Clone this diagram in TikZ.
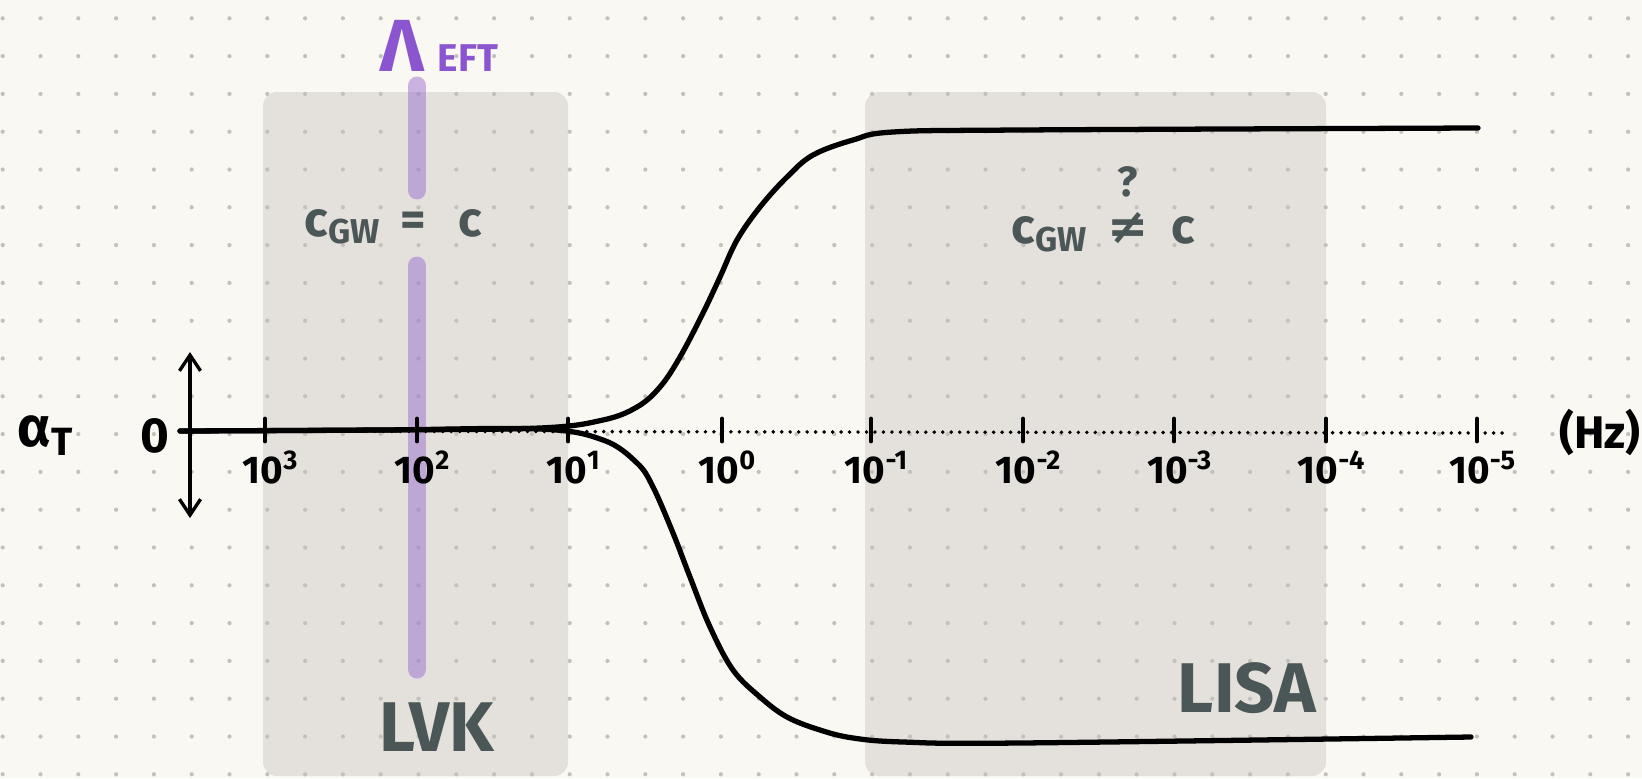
\documentclass[tikz,border=0pt]{standalone}
\usepackage{fontspec}
\setmainfont{Fira Sans}
\newfontfamily\signfont{DejaVu Sans}
\usepackage{tikz}
\usetikzlibrary{arrows.meta,positioning}
\definecolor{paperbg}{HTML}{FAF8F3}
\definecolor{bandgray}{HTML}{E4E1DC}
\definecolor{griddot}{HTML}{C4C1BC}
\definecolor{inkslate}{HTML}{4B5757}
\definecolor{eftpurple}{HTML}{8B55CF}
\definecolor{barpurple}{HTML}{9B6FCF}

\begin{document}
\begin{tikzpicture}[x=0.01cm,y=-0.01cm,
    band/.style={fill=bandgray, rounded corners=4pt},
    curve/.style={line width=1.5pt, line cap=round, line join=round},
    tickmark/.style={line width=1.4pt, line cap=round},
    ticklabel/.style={font=\fontsize{11}{11}\selectfont\bfseries, inner sep=0pt, anchor=base},
    slate/.style={text=inkslate, font=\fontsize{14}{14}\selectfont\bfseries, inner sep=0pt},
    bigslate/.style={text=inkslate, font=\fontsize{20}{20}\selectfont\bfseries, inner sep=0pt},
    cutbar/.style={barpurple, opacity=0.5, line width=5.4pt, line cap=round}]
      % Paper
      \fill[paperbg] (0,0) rectangle (1642,778);
      \useasboundingbox (0,0) rectangle (1642,778);
      % Detector bands
      \fill[band] (263,92) rectangle (568,776);
      \fill[band] (865,92) rectangle (1326,776);
      % Dot grid
      \foreach \i in {0,...,43}
        \foreach \j in {0,...,20}
          \fill[griddot] ({2.7+37.8*\i},{18.3+37.8*\j}) circle (0.6pt);
      % EFT cutoff
      \draw[cutbar] (417,86) -- (417,190);
      \draw[cutbar] (417,266) -- (417,669);
      \node (lambda) at (402,46) [text=eftpurple, font=\fontsize{21}{21}\selectfont\bfseries, inner sep=0pt] {Λ};
      \node (eft) at (468,58) [text=eftpurple, font=\fontsize{11}{11}\selectfont\bfseries, inner sep=0pt] {EFT};
      % Band labels
      \node[slate] (eqsign) at (413,224) {=};
      \node[slate, base left=5pt of eqsign] (cgwleft) {c\textsubscript{GW}};
      \node[slate, base right=9pt of eqsign] (cleft) {c};
      \node[slate] (neqsign) at (1128,228) {\signfont ≠};
      \node[slate, base left=5pt of neqsign] (cgwright) {c\textsubscript{GW}};
      \node[slate, base right=6pt of neqsign] (cright) {c};
      \node[slate, font=\fontsize{12}{12}\selectfont\bfseries, above=4pt of neqsign] (qmark) {?};
      \node[bigslate] (lvk) at (437,727) {LVK};
      \node[bigslate] (lisa) at (1247,688) {LISA};
      % Axes
      \coordinate (origin) at (180,431);
      \coordinate (axisend) at (1506,433);
      \coordinate (ytop) at (190,352);
      \coordinate (ybot) at (190,518);
      \draw[line width=1.1pt, line cap=round, dash pattern=on 0.01pt off 2.4pt] (origin) -- (axisend);
      \draw[line width=0.95pt, {Straight Barb[length=4.5pt,width=6pt]}-{Straight Barb[length=4.5pt,width=6pt]}] (ybot) -- (ytop);
      \node[font=\fontsize{14}{14}\selectfont\bfseries, inner sep=0pt, anchor=base] (zero) at (155,452) {0};
      \node[font=\fontsize{16}{16}\selectfont\bfseries, inner sep=0pt, anchor=base west] (alphaT) at (17,446) {α\textsubscript{T}};
      \node[font=\fontsize{13}{13}\selectfont\bfseries, inner sep=0pt] (unit) at (1600,432) {(Hz)};
      % Frequency ticks
      \foreach \x/\e [count=\k] in {265/3, 417/2, 568/1, 722/0, 871/-1, 1023/-2, 1174/-3, 1326/-4, 1477/-5} {
        \draw[tickmark] (\x,419) -- (\x,441);
        \node[ticklabel] (ticklab\k) at (\x+6,483) {10\textsuperscript{\e}};
      }
      % Speed of gravity branches
      \draw[curve] plot[smooth, tension=0.6] coordinates {(180,431) (380,430) (540,428) (603,420) (637,407) (660,387) (680,357) (703,313) (720,277) (737,240) (760,207) (787,177) (813,155) (853,140) (893,132) (1020,130) (1478,128)};
      \draw[curve] plot[smooth, tension=0.6] coordinates {(180,431) (380,430) (540,429) (603,440) (637,463) (653,487) (673,533) (690,577) (710,627) (733,670) (760,697) (787,717) (820,730) (853,738) (903,742) (1020,743) (1471,737)};
\end{tikzpicture}
\end{document}
